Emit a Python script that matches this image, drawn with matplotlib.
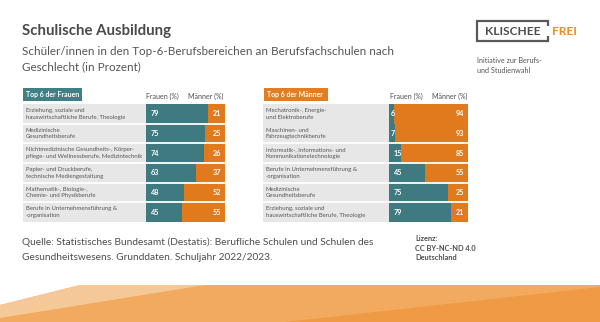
import matplotlib
matplotlib.use("Agg")
import matplotlib.pyplot as plt
from matplotlib.patches import Polygon, Rectangle

plt.rcParams['font.family'] = ['Lato', 'DejaVu Sans']

# ---- data ----
women_top_labels = [
    "Erziehung, soziale und\nhauswirtschaftliche Berufe, Theologie",
    "Medizinische\nGesundheitsberufe",
    "Nichtmedizinische Gesundheits-, Körper-\npflege- und Wellnessberufe, Medizintechnik",
    "Papier- und Druckberufe,\ntechnische Mediengestaltung",
    "Mathematik-, Biologie-,\nChemie- und Physikberufe",
    "Berufe in Unternehmensführung &\n-organisation",
]
women_top_f = [79, 75, 74, 63, 48, 45]
women_top_m = [21, 25, 26, 37, 52, 55]

men_top_labels = [
    "Mechatronik-, Energie-\nund Elektroberufe",
    "Maschinen- und\nFahrzeugtechnikberufe",
    "Informatik-, Informations- und\nKommunikationstechnologie",
    "Berufe in Unternehmensführung &\n-organisation",
    "Medizinische\nGesundheitsberufe",
    "Erziehung, soziale und\nhauswirtschaftliche Berufe, Theologie",
]
men_top_f = [6, 7, 15, 45, 75, 79]
men_top_m = [94, 93, 85, 55, 25, 21]

TEAL = "#3f7a81"
ORANGE = "#e07a1c"
GRAY_BG = "#e7e7e7"
TEXT = "#555555"

W, H = 600, 322
fig = plt.figure(figsize=(W / 100, H / 100), dpi=100)
fig.patch.set_facecolor("white")

# overlay in pixel coordinates for decoration and text
ov = fig.add_axes([0, 0, 1, 1])
ov.set_xlim(0, W)
ov.set_ylim(H, 0)
ov.axis("off")

ov.text(22, 31, "Schulische Ausbildung", fontsize=10.8, fontweight="bold",
        color="#4a4a4a", va="center")
ov.text(22, 51, "Schüler/innen in den Top-6-Berufsbereichen an Berufsfachschulen nach",
        fontsize=8.35, color="#555555", va="center")
ov.text(22, 67, "Geschlecht (in Prozent)", fontsize=8.35, color="#555555", va="center")

# logo
logo_col = "#5a5a5a"
ov.plot([548, 548, 477, 477, 548, 548], [26, 21, 21, 41, 41, 36],
        color=logo_col, lw=1.6, solid_capstyle="butt", solid_joinstyle="miter")
ov.text(513, 31.5, "KLISCHEE", fontsize=8.6, fontweight="bold", color="#4d4d4d",
        ha="center", va="center")
ov.text(552, 31.5, "FREI", fontsize=8.6, fontweight="bold", color="#ee8a22",
        ha="left", va="center")
ov.text(477, 60, "Initiative zur Berufs-", fontsize=5.2, color="#555555", va="center")
ov.text(477, 70, "und Studienwahl", fontsize=5.2, color="#555555", va="center")

# footer text
ov.text(22, 242, "Quelle: Statistisches Bundesamt (Destatis): Berufliche Schulen und Schulen des",
        fontsize=7.25, color="#4d4d4d", va="center")
ov.text(22, 257, "Gesundheitswesens. Grunddaten. Schuljahr 2022/2023.",
        fontsize=7.25, color="#4d4d4d", va="center")
ov.text(415, 238, "Lizenz:", fontsize=5.3, fontweight="bold", color="#4d4d4d", va="center")
ov.text(415, 248, "CC BY-NC-ND 4.0", fontsize=5.3, fontweight="bold", color="#4d4d4d", va="center")
ov.text(415, 257.5, "Deutschland", fontsize=5.3, fontweight="bold", color="#4d4d4d", va="center")

# orange footer band
ov.add_patch(Polygon([(80, 285), (600, 285), (600, 322), (0, 322), (0, 305)],
                     closed=True, facecolor="#f2aa5e", edgecolor="none"))
ov.add_patch(Polygon([(80, 285), (205, 285), (0, 318), (0, 305)],
                     closed=True, facecolor="#f5c997", edgecolor="none"))
ov.add_patch(Polygon([(600, 287), (600, 322), (285, 322)],
                     closed=True, facecolor="#ef9a45", edgecolor="none"))


def panel(x0, x_bar, x1, y0, y1, labels, f_vals, m_vals, head_text, head_col,
          head_box, hdr_x, merged=()):
    """Draw one stacked bar table. Pixel extents are converted to figure fractions."""
    ax = fig.add_axes([x0 / W, 1 - y1 / H, (x1 - x0) / W, (y1 - y0) / H])
    units_per_px = 100 / (x1 - x_bar)
    lab_w = (x_bar - x0) * units_per_px
    n = len(labels)
    ys = list(range(n))
    ax.set_xlim(-lab_w, 100)
    ax.set_ylim(n - 0.5, -0.5)
    ax.axis("off")
    h = 1.0
    ax.barh(ys, [lab_w] * n, left=-lab_w, height=h, color=GRAY_BG)
    ax.barh(ys, f_vals, left=0, height=h, color=TEAL)
    ax.barh(ys, m_vals, left=f_vals, height=h, color=ORANGE)
    # white row separators
    for i in range(1, n):
        if i in merged:
            continue
        ax.axhline(i - 0.5, color="white", lw=1.3)
    for i, (lab, fv, mv) in enumerate(zip(labels, f_vals, m_vals)):
        ax.text(-lab_w + 2.5 * units_per_px, i, lab, fontsize=4.35, color=TEXT,
                va="center", ha="left", linespacing=1.4)
        fx = 2 * units_per_px if fv < 10 else 5 * units_per_px
        ax.text(fx, i, f"{fv}", fontsize=5.2, color="white", fontweight="bold",
                va="center", ha="left")
        ax.text(fv + mv - 3.5 * units_per_px, i, f"{mv}", fontsize=5.2, color="white",
                fontweight="bold", va="center", ha="right")
    # header box
    bx0, by0, bx1, by1 = head_box
    ov.add_patch(Rectangle((bx0, by0), bx1 - bx0, by1 - by0, facecolor=head_col,
                           edgecolor="none"))
    ov.text(bx0 + 3, (by0 + by1) / 2, head_text, fontsize=5.0, fontweight="bold",
            color="white", va="center", ha="left")
    ov.text(hdr_x[0], 96, "Frauen (%)", fontsize=5.0, color="#4d4d4d",
            ha="center", va="center")
    ov.text(hdr_x[1], 96, "Männer (%)", fontsize=5.0, color="#4d4d4d",
            ha="center", va="center")
    return ax


panel(23, 146, 225, 104, 222, women_top_labels, women_top_f, women_top_m,
      "Top 6 der Frauen", "#3f7f86", (23, 88, 82, 101), (162, 206))
panel(263, 389, 468, 104, 222, men_top_labels, men_top_f, men_top_m,
      "Top 6 der Männer", "#e27d22", (264, 88, 328, 101), (406, 450), merged=(1,))

fig.savefig("out.png", dpi=100)
